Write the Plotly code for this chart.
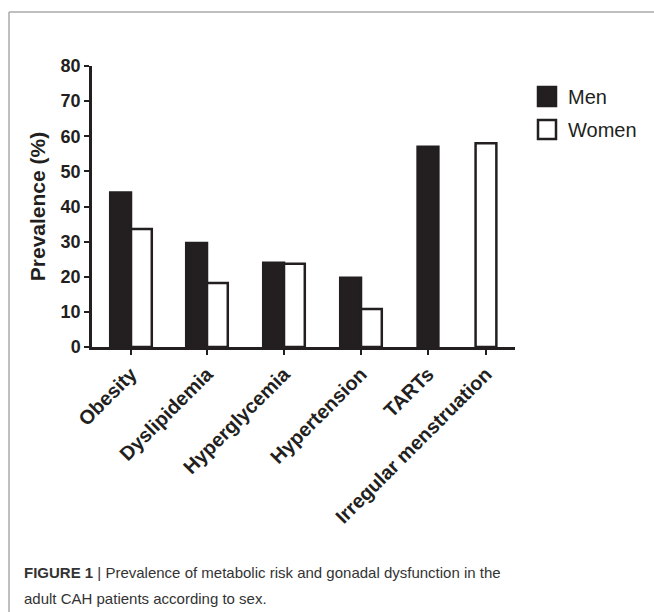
import plotly.graph_objects as go

categories = ["Obesity", "Dyslipidemia", "Hyperglycemia", "Hypertension", "TARTs", "Irregular menstruation"]
men = [44.0, 29.6, 24.0, 19.7, 57.0, None]
women = [33.6, 18.2, 23.7, 10.8, None, 58.0]
y_ticks = [0, 10, 20, 30, 40, 50, 60, 70, 80]

# layout positions of category slots (GraphPad-like uneven spacing)
slot_pos = [0, 0.987, 1.987, 2.987, 3.857, 4.61]
bw = 0.27
men_off = [-bw if (w is not None) else -bw / 2 for w in women]
women_off = [0 if (m is not None) else -bw / 2 for m in men]

W, H = 654, 612
L, R, T, B = 92, 515, 66, 347

def px(x):
    return (x - L) / (R - L)

def py(y):
    return (B - y) / (B - T)

DARK = "#231f20"
fig = go.Figure()
fig.add_trace(go.Bar(x=slot_pos, y=men, name="Men", width=bw, offset=men_off,
                     marker=dict(color=DARK, line=dict(color=DARK, width=2.5))))
fig.add_trace(go.Bar(x=slot_pos, y=women, name="Women", width=bw, offset=women_off,
                     marker=dict(color="white", line=dict(color=DARK, width=2.5))))

fig.update_layout(
    width=W, height=H, barmode="overlay", showlegend=False,
    paper_bgcolor="white", plot_bgcolor="white",
    margin=dict(l=L, r=W - R, t=T, b=H - B),
    font=dict(family="Liberation Sans, Arial, sans-serif", color=DARK),
    xaxis=dict(range=[(L - 131) / 77, (R - 131) / 77], tickvals=slot_pos, ticktext=categories,
               tickangle=-45, showline=True, linecolor=DARK, linewidth=2.5,
               ticks="outside", ticklen=5, tickwidth=2, tickcolor=DARK,
               showgrid=False, zeroline=False,
               tickfont=dict(size=19.8, family="Liberation Sans, Arial", color=DARK, weight="bold")),
    yaxis=dict(range=[0, 80], tickvals=y_ticks, showline=True, linecolor=DARK, linewidth=2.5,
               ticks="outside", ticklen=5, tickwidth=2, tickcolor=DARK,
               showgrid=False, zeroline=False,
               tickfont=dict(size=18, family="Liberation Sans, Arial", color=DARK, weight="bold"),
               title=dict(text="<b>Prevalence (%)</b>", font=dict(size=21, color=DARK), standoff=10)),
)

shapes = [
    dict(type="line", xref="paper", yref="paper", x0=px(9), x1=px(9), y0=py(12), y1=py(612),
         line=dict(color="#aaaaaa", width=1.5)),
    dict(type="line", xref="paper", yref="paper", x0=px(9), x1=px(654), y0=py(12), y1=py(12),
         line=dict(color="#aaaaaa", width=1.5)),
    # legend swatches
    dict(type="rect", xref="paper", yref="paper", x0=px(538), x1=px(556), y0=py(87), y1=py(106),
         fillcolor=DARK, line=dict(color=DARK, width=2.5)),
    dict(type="rect", xref="paper", yref="paper", x0=px(538), x1=px(556), y0=py(120), y1=py(139),
         fillcolor="white", line=dict(color=DARK, width=2.5)),
]
cap_font = dict(size=15, color="#333333", family="Liberation Sans, Arial, sans-serif")
annotations = [
    dict(text="Men", x=px(566), y=py(97), xref="paper", yref="paper", xanchor="left", yanchor="middle",
         showarrow=False, font=dict(size=20, color=DARK)),
    dict(text="Women", x=px(566), y=py(130), xref="paper", yref="paper", xanchor="left", yanchor="middle",
         showarrow=False, font=dict(size=20, color=DARK)),
    dict(text="<b>FIGURE 1</b> | Prevalence of metabolic risk and gonadal dysfunction in the",
         x=px(22), y=py(572), xref="paper", yref="paper", xanchor="left", yanchor="middle",
         showarrow=False, font=cap_font),
    dict(text="adult CAH patients according to sex.",
         x=px(22), y=py(598), xref="paper", yref="paper", xanchor="left", yanchor="middle",
         showarrow=False, font=cap_font),
]
fig.update_layout(shapes=shapes, annotations=annotations)
fig.write_html("out.html", config={"displayModeBar": False},
               post_script="document.body.style.margin='0';document.body.style.padding='0';")
